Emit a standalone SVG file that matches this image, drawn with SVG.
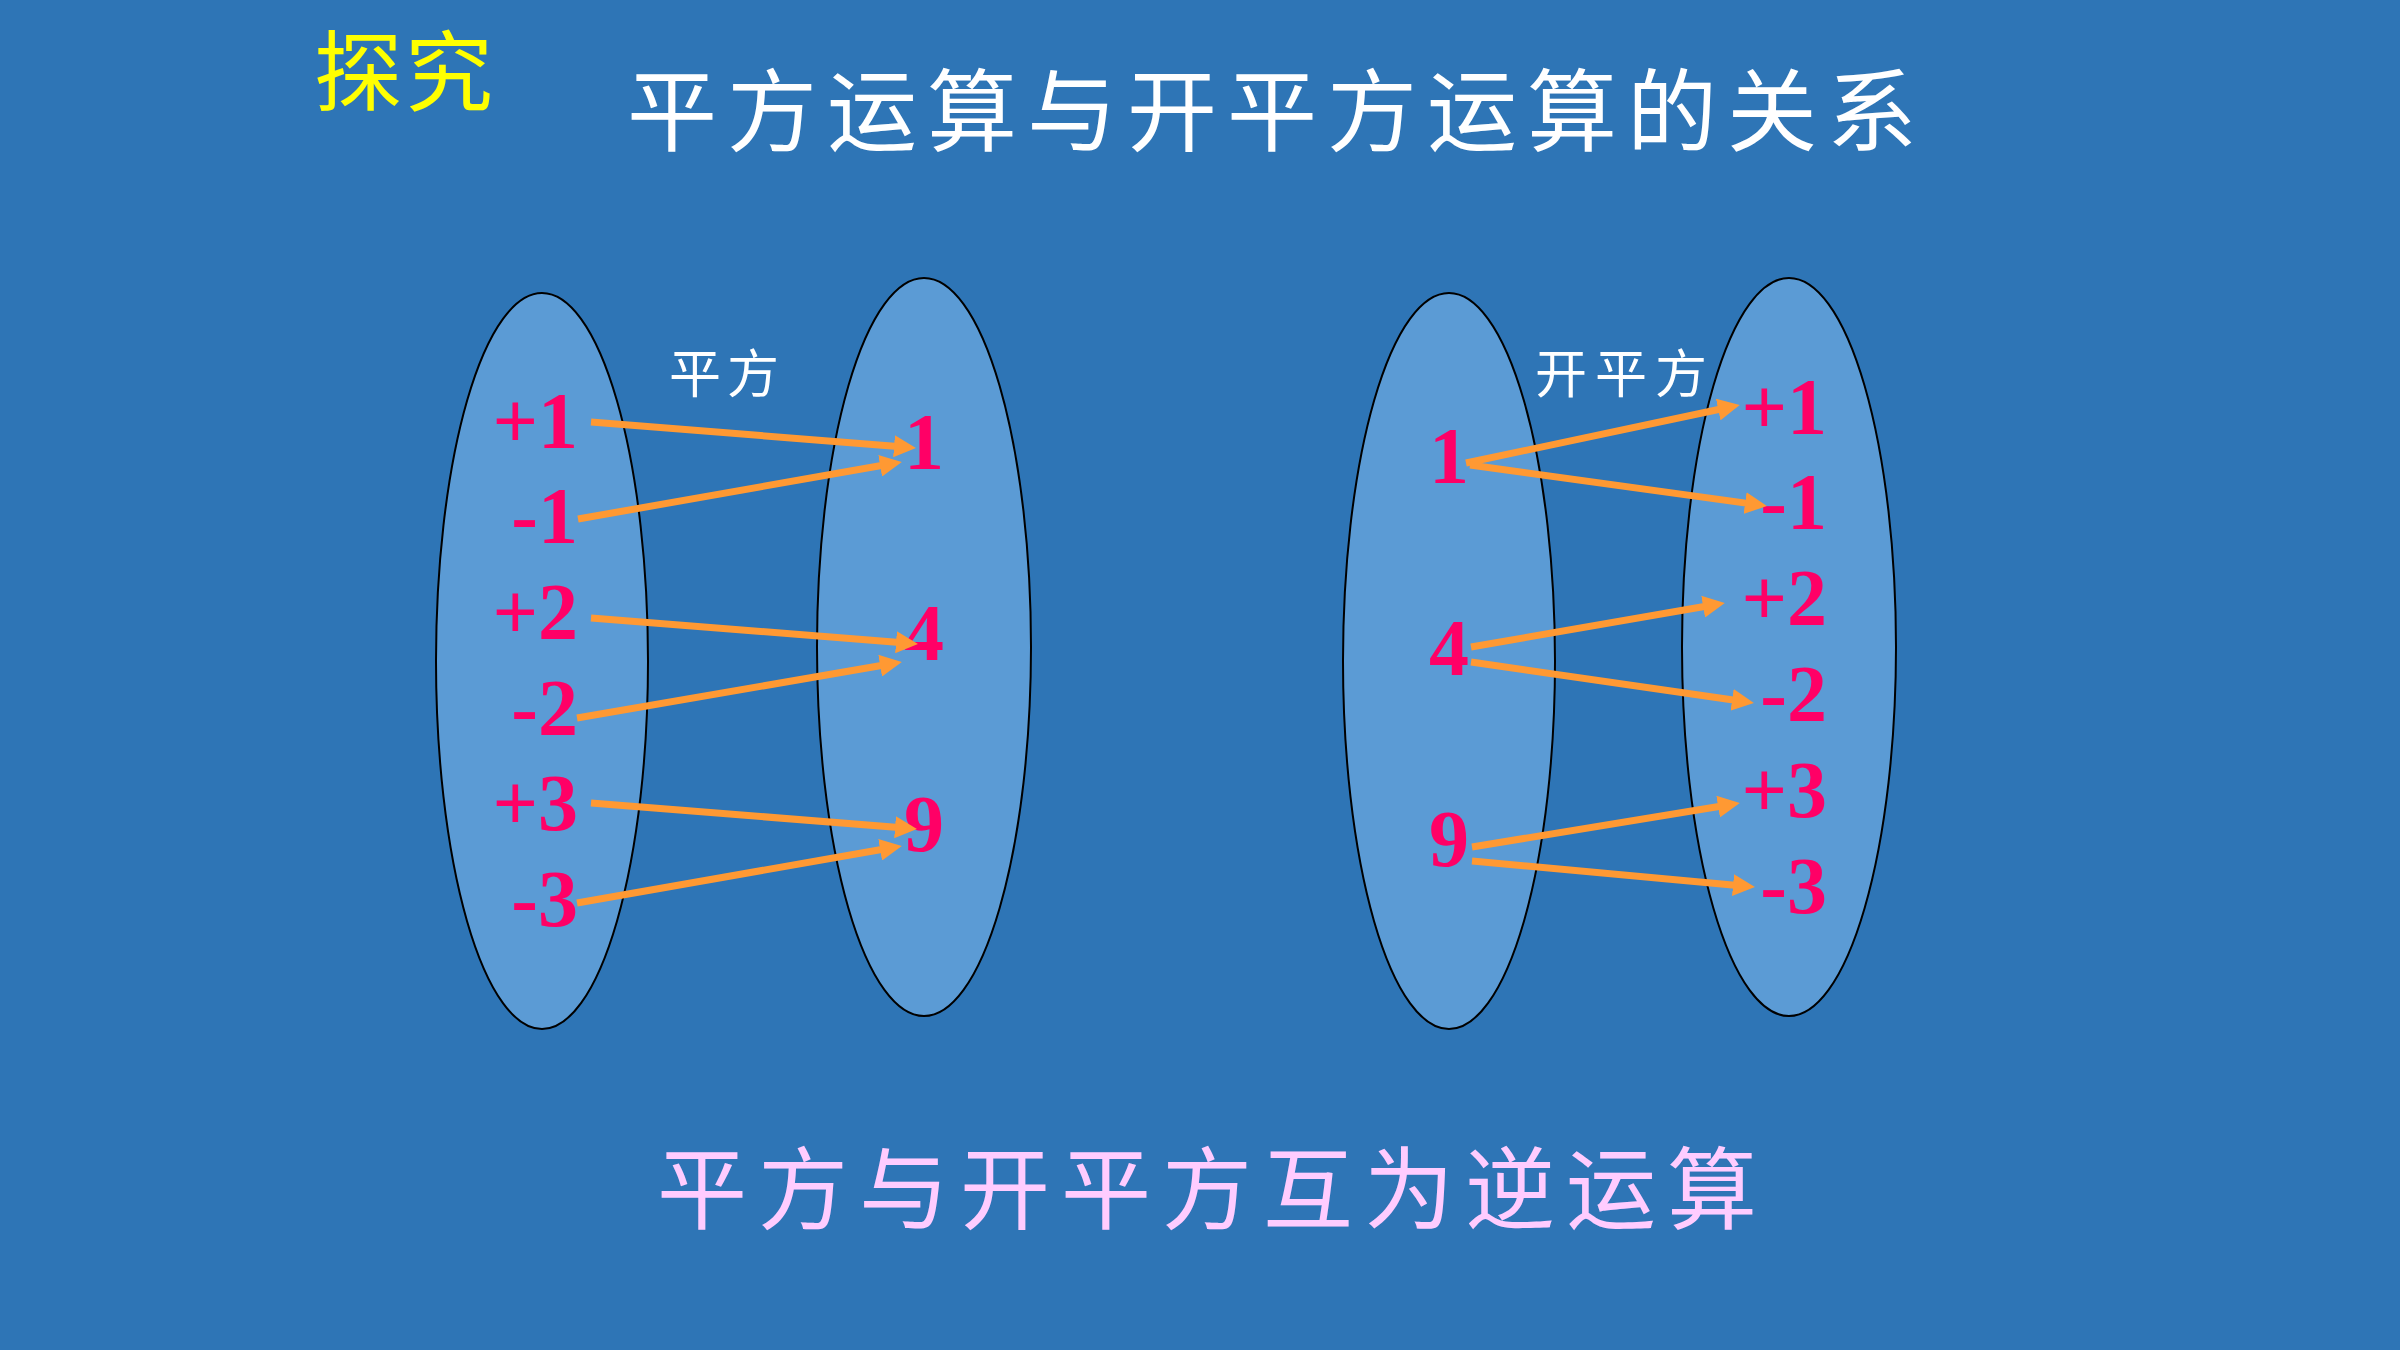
<svg xmlns="http://www.w3.org/2000/svg" width="2400" height="1350" viewBox="0 0 2400 1350">
<defs>
<style>
.bg{fill:#2E75B6}
.set{fill:#5B9BD5;stroke:#000;stroke-width:2}
.num{font-family:"Liberation Serif","Times New Roman",serif;font-weight:bold;font-size:80px;fill:#FF0066}
.end{text-anchor:end}
.mid{text-anchor:middle}
.cjk{font-family:"Noto Sans CJK SC","Noto Sans",sans-serif}
.arr{stroke:#FF9933;stroke-width:7;fill:none;marker-end:url(#ah)}
</style>
<marker id="ah" markerUnits="userSpaceOnUse" viewBox="0 0 22 22" markerWidth="22" markerHeight="22" refX="10" refY="11" orient="auto">
<path d="M0,0 L22,11 L0,22 z" fill="#FF9933"/>
</marker>
</defs>
<rect class="bg" x="0" y="0" width="2400" height="1350"/>
<g id="title">
<text class="cjk" x="314" y="104" font-size="88" letter-spacing="3" fill="#FFFF00">探究</text>
<text class="cjk" x="627" y="144" font-size="90" letter-spacing="10" fill="#FFFFFF">平方运算与开平方运算的关系</text>
</g>
<g id="set-left-a"><ellipse class="set" cx="542" cy="661" rx="106" ry="368"/></g>
<g id="set-left-b"><ellipse class="set" cx="924" cy="647" rx="107" ry="369"/></g>
<g id="set-right-a"><ellipse class="set" cx="1449" cy="661" rx="106" ry="368"/></g>
<g id="set-right-b"><ellipse class="set" cx="1789" cy="647" rx="107" ry="369"/></g>
<g id="label-square"><text class="cjk" x="669" y="393" font-size="52" letter-spacing="6" fill="#FFFFFF">平方</text></g>
<g id="label-sqrt"><text class="cjk" x="1535" y="393" font-size="52" letter-spacing="8" fill="#FFFFFF">开平方</text></g>
<g id="left-inputs">
<text class="num end" x="578" y="448">+1</text>
<text class="num end" x="578" y="543">-1</text>
<text class="num end" x="578" y="639">+2</text>
<text class="num end" x="578" y="735">-2</text>
<text class="num end" x="578" y="830">+3</text>
<text class="num end" x="578" y="926">-3</text>
</g>
<g id="left-outputs">
<text class="num mid" x="924" y="469">1</text>
<text class="num mid" x="924" y="660">4</text>
<text class="num mid" x="924" y="851">9</text>
</g>
<g id="right-inputs">
<text class="num mid" x="1449" y="483">1</text>
<text class="num mid" x="1449" y="675">4</text>
<text class="num mid" x="1449" y="866">9</text>
</g>
<g id="right-outputs">
<text class="num end" x="1827" y="434">+1</text>
<text class="num end" x="1827" y="529">-1</text>
<text class="num end" x="1827" y="625">+2</text>
<text class="num end" x="1827" y="721">-2</text>
<text class="num end" x="1827" y="817">+3</text>
<text class="num end" x="1827" y="913">-3</text>
</g>
<g id="connectors">
<line class="arr" x1="591" y1="422" x2="904" y2="447"/>
<line class="arr" x1="578" y1="519" x2="890" y2="464"/>
<line class="arr" x1="591" y1="618" x2="906" y2="643"/>
<line class="arr" x1="577" y1="718" x2="890" y2="664"/>
<line class="arr" x1="591" y1="803" x2="905" y2="828"/>
<line class="arr" x1="577" y1="903" x2="890" y2="848"/>
<line class="arr" x1="1466" y1="463" x2="1728" y2="407.5"/>
<line class="arr" x1="1470" y1="465" x2="1755" y2="504.4"/>
<line class="arr" x1="1471" y1="647" x2="1713" y2="605"/>
<line class="arr" x1="1471" y1="662" x2="1742" y2="701.3"/>
<line class="arr" x1="1472" y1="847" x2="1728" y2="805"/>
<line class="arr" x1="1472" y1="861" x2="1743" y2="886"/>
</g>
<g id="conclusion">
<text class="cjk" x="657" y="1222" font-size="90" letter-spacing="11" fill="#FFCCFF">平方与开平方互为逆运算</text>
</g>
</svg>
